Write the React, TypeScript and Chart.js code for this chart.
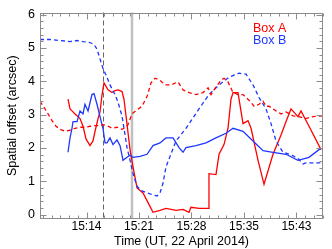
import React, { useEffect, useRef } from 'react';
import { Chart, registerables } from 'chart.js';

Chart.register(...registerables);

// Time in minutes after 15:00 UT, spatial offset in arcsec
const xTickValues = [14, 21.2, 28.4, 35.6, 42.8];
const xTickLabels = ['15:14', '15:21', '15:28', '15:35', '15:43'];
const yTickValues = [0, 1, 2, 3, 4, 5, 6];
const xRange = [7.62, 46.44];
const yRange = [-0.13, 6.06];
const eventTimes = [16.26, 20.24];
const legendNames = ['Box A', 'Box B'];

const boxASolidT = [11.46, 11.74, 12.01, 12.42, 12.83, 13.11, 13.52, 13.93, 14.48, 14.89, 15.17, 15.58, 15.85, 16.13, 16.40, 16.95, 17.50, 17.91, 18.32, 18.87, 19.14, 19.42, 19.97, 20.38, 20.93, 21.75, 22.44, 23.12, 24.08, 24.90, 26.28, 27.24, 28.06, 28.33, 29.43, 30.67, 30.80, 31.76, 32.18, 32.86, 33.41, 33.82, 34.10, 34.78, 35.47, 36.15, 36.57, 37.53, 38.35, 39.58, 40.68, 41.37, 42.05, 43.01, 43.42, 44.52, 46.17];
const boxASolidV = [3.46, 3.17, 3.11, 3.02, 2.94, 2.88, 2.65, 2.27, 2.07, 2.21, 2.50, 2.88, 3.08, 3.60, 3.95, 3.74, 3.66, 3.72, 3.74, 3.69, 3.46, 2.96, 1.95, 1.43, 0.80, 0.65, 0.36, 0.07, 0.13, 0.19, 0.13, 0.16, 0.07, 0.22, 0.19, 0.19, 1.23, 1.20, 1.81, 2.10, 2.59, 3.46, 3.66, 3.66, 2.73, 2.82, 2.59, 1.63, 0.91, 1.81, 2.39, 2.79, 3.17, 2.94, 3.11, 2.65, 1.95];

const boxADashT = [7.62, 8.17, 8.72, 9.27, 9.82, 10.36, 11.05, 11.74, 12.42, 13.11, 13.79, 14.48, 15.17, 15.85, 16.26, 16.81, 17.50, 18.18, 18.87, 19.42, 19.69, 20.24, 20.93, 21.61, 22.30, 22.85, 23.40, 24.08, 24.77, 25.59, 26.55, 27.24, 28.06, 29.02, 29.98, 30.67, 31.08, 31.76, 32.45, 32.86, 33.41, 34.10, 34.78, 35.47, 36.15, 36.57, 36.98, 37.67, 38.21, 38.62, 39.03, 39.99, 40.68, 41.37, 42.33, 43.15, 44.11, 45.07, 46.44];
const boxADashV = [3.40, 3.22, 3.02, 2.82, 2.65, 2.56, 2.50, 2.53, 2.59, 2.62, 2.62, 2.65, 2.67, 2.67, 2.70, 2.67, 2.59, 2.62, 2.56, 2.62, 2.70, 3.02, 3.14, 3.25, 3.54, 3.95, 4.09, 4.03, 3.89, 3.89, 3.98, 3.74, 3.66, 3.60, 3.66, 3.80, 3.60, 3.83, 4.03, 4.09, 3.98, 3.66, 3.60, 3.60, 3.46, 3.37, 3.25, 3.31, 3.40, 3.25, 3.25, 3.11, 3.02, 3.08, 2.96, 2.94, 2.88, 2.94, 2.96];

const boxBSolidT = [11.46, 11.74, 12.01, 12.15, 12.70, 13.11, 13.52, 13.79, 14.21, 14.75, 15.03, 15.44, 15.85, 16.26, 16.54, 16.81, 17.22, 17.64, 18.18, 18.60, 19.01, 19.56, 19.97, 20.38, 21.34, 22.30, 23.12, 24.08, 24.90, 25.87, 26.69, 27.24, 27.65, 29.02, 30.39, 31.76, 33.14, 34.10, 35.47, 36.84, 38.21, 39.58, 41.37, 43.01, 44.52, 45.89, 46.17];
const boxBSolidV = [1.87, 2.30, 2.59, 2.79, 2.79, 3.11, 3.02, 3.31, 3.11, 3.60, 3.63, 3.31, 2.94, 2.59, 2.15, 2.15, 2.30, 2.10, 2.24, 2.07, 1.63, 1.72, 1.78, 1.72, 1.75, 1.81, 2.07, 2.15, 2.30, 2.30, 2.01, 1.87, 2.01, 2.07, 2.15, 2.30, 2.44, 2.59, 2.50, 2.21, 1.92, 1.87, 1.81, 1.63, 1.72, 1.95, 1.98];

const boxBDashT = [7.62, 8.99, 10.36, 11.74, 12.70, 13.52, 14.48, 15.03, 15.44, 15.85, 16.26, 16.81, 17.22, 17.91, 18.32, 18.87, 19.14, 19.56, 19.97, 20.38, 20.93, 21.61, 22.71, 23.67, 24.08, 24.49, 24.90, 26.28, 27.65, 29.43, 30.80, 32.18, 33.55, 34.92, 35.88, 36.84, 37.67, 38.62, 39.31, 39.99, 40.95, 41.91, 43.01, 43.70, 44.11, 46.44];
const boxBDashV = [5.25, 5.25, 5.22, 5.19, 5.22, 5.19, 5.16, 5.10, 4.96, 4.67, 4.38, 4.12, 3.89, 3.60, 3.37, 2.96, 2.59, 2.01, 1.63, 1.23, 0.85, 0.71, 0.62, 0.56, 0.65, 0.94, 1.43, 2.21, 2.59, 3.17, 3.60, 3.89, 4.12, 4.24, 4.21, 3.89, 3.51, 3.17, 2.73, 2.21, 1.87, 1.81, 1.69, 1.52, 1.55, 1.55];

const RED = 'rgb(255,0,0)';
const BLUE = 'rgb(30,55,255)';
const FRAME = '#8c8c8c';
const FAMILY = '"Liberation Sans", Arial, Helvetica, sans-serif';

const pts = (t: number[], v: number[]) => t.map((x, i) => ({ x, y: v[i] }));

const decorPlugin = {
  id: 'decor',
  beforeDatasetsDraw(chart: any) {
    const { ctx, chartArea: a, scales } = chart;
    const x = scales.x;
    ctx.save();
    const xd = Math.round(x.getPixelForValue(eventTimes[0])) + 0.5;
    ctx.strokeStyle = '#666';
    ctx.lineWidth = 1;
    ctx.setLineDash([5, 3]);
    ctx.beginPath();
    ctx.moveTo(xd, a.top);
    ctx.lineTo(xd, a.bottom);
    ctx.stroke();
    const xs = x.getPixelForValue(eventTimes[1]);
    ctx.setLineDash([]);
    ctx.strokeStyle = '#c0c0c0';
    ctx.lineWidth = 2.5;
    ctx.beginPath();
    ctx.moveTo(xs, a.top);
    ctx.lineTo(xs, a.bottom);
    ctx.stroke();
    ctx.restore();
  },
  afterDatasetsDraw(chart: any) {
    const { ctx, chartArea: a, scales } = chart;
    const x = scales.x;
    const y = scales.y;
    ctx.save();
    ctx.strokeStyle = FRAME;
    ctx.lineWidth = 1;
    const L = Math.round(a.left) + 0.5, R = Math.round(a.right) - 0.5;
    const T = Math.round(a.top) + 0.5, B = Math.round(a.bottom) - 0.5;
    ctx.strokeRect(L, T, R - L, B - T);
    const major = 6, minor = 3;
    ctx.beginPath();
    const xstep = (xTickValues[1] - xTickValues[0]) / 6;
    let start = xTickValues[0];
    while (start - xstep >= xRange[0]) start -= xstep;
    for (let v = start; v <= xRange[1] + 1e-6; v += xstep) {
      const px = Math.round(x.getPixelForValue(v)) + 0.5;
      const isMajor = xTickValues.some((t) => Math.abs(t - v) < 1e-3);
      const len = isMajor ? major : minor;
      ctx.moveTo(px, B); ctx.lineTo(px, B - len);
      ctx.moveTo(px, T); ctx.lineTo(px, T + len);
    }
    for (let v = 0; v <= 6.0001; v += 0.2) {
      const py = Math.round(y.getPixelForValue(v)) + 0.5;
      const isMajor = yTickValues.some((t) => Math.abs(t - v) < 1e-3);
      const len = isMajor ? major : minor;
      ctx.moveTo(L, py); ctx.lineTo(L + len, py);
      ctx.moveTo(R, py); ctx.lineTo(R - len, py);
    }
    ctx.stroke();
    ctx.font = `12.5px ${FAMILY}`;
    ctx.textAlign = 'left';
    ctx.textBaseline = 'middle';
    ctx.fillStyle = RED;
    ctx.fillText(legendNames[0], a.right - 70, a.top + 16);
    ctx.fillStyle = BLUE;
    ctx.fillText(legendNames[1], a.right - 70, a.top + 28);
    ctx.restore();
  },
};

export default function App() {
  const ref = useRef<HTMLCanvasElement | null>(null);
  useEffect(() => {
    if (!ref.current) return;
    const chart = new Chart(ref.current, {
      type: 'line',
      data: {
        datasets: [
          { label: 'Box A (dashed)', data: pts(boxADashT, boxADashV), borderColor: RED, borderDash: [4, 3] },
          { label: 'Box B (dashed)', data: pts(boxBDashT, boxBDashV), borderColor: BLUE, borderDash: [4, 3] },
          { label: 'Box B', data: pts(boxBSolidT, boxBSolidV), borderColor: BLUE },
          { label: 'Box A', data: pts(boxASolidT, boxASolidV), borderColor: RED },
        ],
      },
      options: {
        animation: false,
        responsive: false,
        maintainAspectRatio: false,
        parsing: false as any,
        layout: { padding: { top: 5, right: 9, left: 0, bottom: 0 } },
        plugins: { legend: { display: false }, tooltip: { enabled: false } },
        elements: {
          point: { radius: 0 },
          line: { tension: 0, borderWidth: 1.3, fill: false },
        },
        scales: {
          x: {
            type: 'linear',
            min: xRange[0],
            max: xRange[1],
            grid: { display: false, drawTicks: false },
            border: { display: false },
            afterBuildTicks: (s: any) => { s.ticks = xTickValues.map((v) => ({ value: v })); },
            ticks: {
              callback: (_v: any, i: number) => xTickLabels[i],
              padding: 0,
              color: '#000',
              maxRotation: 0,
              autoSkip: false,
              font: { size: 12, family: FAMILY },
            },
            title: {
              display: true,
              text: 'Time (UT, 22 April 2014)',
              color: '#000',
              font: { size: 12.5, family: FAMILY },
              padding: { top: 0, bottom: 0 },
            },
            afterFit: (s: any) => { s.height = 30; },
          },
          y: {
            type: 'linear',
            min: yRange[0],
            max: yRange[1],
            grid: { display: false, drawTicks: false },
            border: { display: false },
            afterBuildTicks: (s: any) => { s.ticks = yTickValues.map((v) => ({ value: v })); },
            ticks: {
              callback: (v: any) => String(v),
              padding: 5,
              color: '#000',
              font: { size: 12.5, family: FAMILY },
            },
            title: {
              display: true,
              text: 'Spatial offset (arcsec)',
              color: '#000',
              font: { size: 12.5, family: FAMILY },
              padding: { top: 5, bottom: 0 },
            },
            afterFit: (s: any) => { s.width = 40; },
          },
        },
      },
      plugins: [decorPlugin],
    });
    return () => chart.destroy();
  }, []);
  return (
    <div style={{ position: 'fixed', left: 0, top: 0, width: 332, height: 249, background: '#fff' }}>
      <canvas ref={ref} width={332} height={249} style={{ display: 'block', width: 332, height: 249 }} />
    </div>
  );
}
